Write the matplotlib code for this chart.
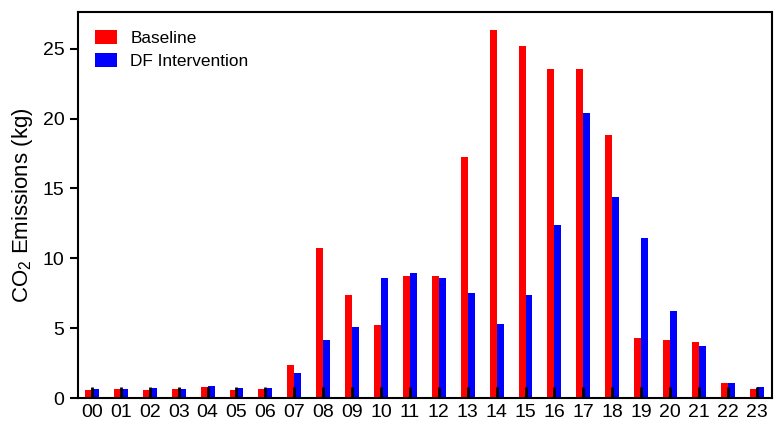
import matplotlib
matplotlib.use("Agg")
import matplotlib.pyplot as plt
import numpy as np

plt.rcParams['font.family'] = ['Liberation Sans', 'DejaVu Sans']
plt.rcParams['mathtext.fontset'] = 'custom'
plt.rcParams['mathtext.rm'] = 'Liberation Sans'

hours = ["00", "01", "02", "03", "04", "05", "06", "07", "08", "09", "10", "11",
         "12", "13", "14", "15", "16", "17", "18", "19", "20", "21", "22", "23"]
baseline = [0.59, 0.64, 0.59, 0.69, 0.79, 0.59, 0.69, 2.38, 10.78, 7.39, 5.25, 8.75,
            8.75, 17.22, 26.31, 25.17, 23.55, 23.55, 18.80, 4.34, 4.15, 4.01, 1.12, 0.69]
df_intervention = [0.64, 0.69, 0.71, 0.69, 0.88, 0.71, 0.71, 1.79, 4.17, 5.08, 8.63, 8.99,
                   8.59, 7.52, 5.34, 7.39, 12.38, 20.37, 14.41, 11.43, 6.25, 3.70, 1.12, 0.79]

fig = plt.figure(figsize=(7.78, 4.25), dpi=100)
ax = fig.add_axes([0.100, 0.063, 0.892, 0.908])

x = np.arange(len(hours))
w = 0.24
ax.bar(x - w / 2, baseline, width=w, color='#ff0000', label='Baseline')
ax.bar(x + w / 2, df_intervention, width=w, color='#0000ff', label='DF Intervention')

ax.set_xlim(-0.49, 23.52)
ax.set_ylim(0, 27.6)
ax.set_xticks(x)
ax.set_xticklabels(hours)
ax.set_yticks([0, 5, 10, 15, 20, 25])
ax.tick_params(axis='x', direction='in', length=8, width=2, labelsize=14, pad=4, color='black')
ax.tick_params(axis='y', direction='out', length=6, width=1.5, labelsize=14)
for s in ax.spines.values():
    s.set_linewidth(1.5)
    s.set_color('black')

ax.set_ylabel('CO$_2$ Emissions (kg)', fontsize=16, labelpad=6)
ax.legend(loc='upper left', frameon=False, fontsize=12.4, handlelength=1.25,
          handleheight=0.9, handletextpad=0.8, labelspacing=0.42,
          borderaxespad=0.6)

fig.savefig('out.png', dpi=100)
